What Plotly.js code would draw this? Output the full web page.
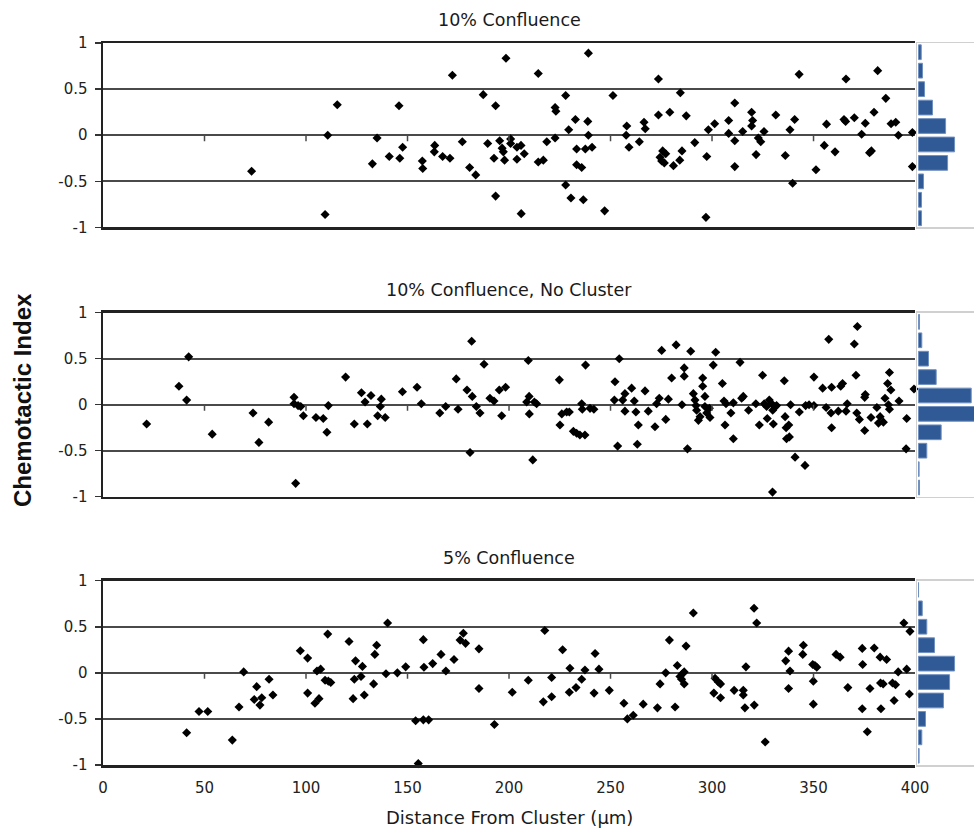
<!DOCTYPE html>
<html>
<head>
<meta charset="utf-8">
<script src="https://cdn.plot.ly/plotly-3.0.1.min.js"></script>
<style>html,body{margin:0;padding:0;background:#fff;}</style>
</head>
<body>
<div id="chart" style="width:974px;height:831px;"></div>
<script>
// ---- Data ----
const panelTitles = ["10% Confluence", "10% Confluence, No Cluster", "5% Confluence"];
const yTickVals = [1, 0.5, 0, -0.5, -1];
const yTickText = ["1", "0.5", "0", "-0.5", "-1"];
const xTickVals = [0, 50, 100, 150, 200, 250, 300, 350, 400];
const xTickText = ["0", "50", "100", "150", "200", "250", "300", "350", "400"];
const yTitle = "Chemotactic Index";
const xTitle = "Distance From Cluster (\u03bcm)";

// Panel 1: 10% Confluence
const p1X = [73.2,109.4,110.7,115.4,132.7,135,141,145.8,146.2,147.6,157.3,157.5,163.4,163.2,167.3,170.9,172.1,177,180.6,183.6,187.3,189.5,193.4,192.6,193.4,195.4,196.6,197.2,197.8,198.5,200.8,200.8,203.9,203.9,205.9,207.5,206,
214.4,214.4,216.9,218.6,222.7,223.1,222.7,227.9,227.9,229.4,230.5,232.7,233.3,233.3,235.8,236.6,237.6,238.8,239.1,239.1,240.9,247.1,251.2,258,257.7,259.1,264.2,266.5,267.1,273.6,273.6,274.4,275.7,275.2,276.5,277.2,279.2,281,284.1,284.4,285.2,287.3,291.5,297,297.4,298.2,301.3,308.2,308.2,311.2,311.2,311.2,315.1,319.5,320,319.5,322.8,324,321.7,325.6,331.4,336.1,338.4,339.7,340.7,342.9,351.2,355.3,356.4,360.6,365,365.8,366,370.1,373.7,375.5,377.6,378.5,379.8,381.6,385.6,388.2,390.5,391.8,398.7,398.7];
const p1Y = [-0.39,-0.86,0.0,0.33,-0.31,-0.03,-0.23,0.32,-0.25,-0.13,-0.28,-0.36,-0.11,-0.18,-0.23,-0.25,0.65,-0.07,-0.35,-0.43,0.44,-0.09,0.32,-0.25,-0.66,-0.06,-0.14,-0.18,-0.27,0.835,-0.04,-0.09,-0.13,-0.26,-0.11,-0.2,-0.85,
-0.29,0.67,-0.27,-0.07,0.30,0.26,-0.03,0.43,-0.54,0.06,-0.68,0.17,-0.15,-0.32,-0.35,-0.70,-0.15,0.15,0.0,0.89,-0.13,-0.82,0.43,0.10,0.0,-0.13,-0.07,0.14,0.07,0.61,0.22,-0.24,-0.17,-0.28,-0.30,-0.20,0.25,-0.33,-0.27,0.46,-0.17,0.21,-0.08,-0.89,-0.23,0.06,0.125,0.16,0.02,0.35,-0.06,-0.34,0.04,0.25,0.16,0.10,-0.03,-0.07,-0.21,0.04,0.22,-0.22,0.06,-0.52,0.17,0.66,-0.375,-0.11,0.12,-0.18,0.17,0.15,0.61,0.19,0.01,0.13,-0.19,-0.17,0.25,0.70,0.40,0.125,0.14,0.0,0.03,-0.34];

// Panel 2: 10% Confluence, No Cluster
const p2X = [21.5,37.4,42.2,41.2,53.8,73.9,76.8,81.6,94.1,94.1,96.1,97.4,94.9,98.7,104.9,108.5,110.3,111,119.5,123.8,127.3,129.1,130.2,132,135.3,137.1,136.6,139,147.5,154.7,156.8,165.9,168.8,174,174.9,179.3,181.6,181.9,180.8,183.9,185.7,187.7,190.6,192.6,195.2,198.3,196.4,209.5,
209.9,208.7,213.6,210,211.7,212.5,224.8,225.1,226,228.4,229.7,231.7,233.3,234.9,237.4,237.7,235.8,236.1,239.9,241.8,252.2,251.9,254.3,253.5,256,257.1,257.1,260.4,261.7,262.5,263.7,263.2,267,268.6,271.9,272.7,274,275.2,277.2,278.5,280.1,282.3,285.2,286.3,286.3,287.9,289.5,290.8,291.6,292.1,292.4,293.3,294.1,295.4,295.4,296.5,296.5,297.4,298.7,299,300.6,301.8,305.1,305.9,306.4,306.9,309.3,310.5,310.5,313.8,314.6,315.4,318,321.6,323.3,324.9,325.7,326.9,327.2,328.2,329.4,329.9,330.2,331,329.8,331.8,335.6,336,336.5,337.8,336.7,338.1,338.7,340.9,343,345.8,346.1,347.8,350.2,350.2,354.5,356.2,357.5,358.6,358.9,358.9,362.2,363.4,364.3,366,366.6,370.1,371.6,370.9,371.3,372.6,375.2,375.5,375.2,378.3,381.2,382,382.8,384.4,385.2,386.5,387.4,388.1,386.9,387.4,392.1,395.9,395.6,399.5];
const p2Y = [-0.21,0.20,0.52,0.05,-0.32,-0.09,-0.41,-0.19,0.08,0.01,-0.01,-0.02,-0.855,-0.12,-0.14,-0.15,-0.30,-0.01,0.30,-0.21,0.13,0.03,-0.21,0.10,-0.12,0.06,-0.02,-0.14,0.14,0.19,0.01,-0.09,-0.02,0.28,-0.05,0.16,0.69,0.09,-0.52,-0.02,-0.09,0.44,0.07,0.04,0.16,0.19,-0.12,0.48,
0.09,0.03,0.01,-0.10,-0.60,0.03,0.27,-0.22,-0.10,-0.08,-0.08,-0.29,-0.31,-0.33,-0.33,0.43,0.01,-0.05,-0.04,-0.05,0.25,0.05,0.50,-0.45,0.05,0.12,-0.07,0.18,0.04,-0.08,-0.22,-0.43,0.15,-0.07,-0.24,0.01,0.07,0.59,-0.16,0.06,0.29,0.65,0.0,0.40,0.31,-0.48,0.58,0.12,0.05,-0.01,-0.06,-0.17,-0.13,0.20,0.29,0.09,-0.02,-0.09,-0.04,-0.14,0.43,0.57,0.23,0.04,-0.22,0.01,-0.09,-0.37,0.02,0.46,0.07,0.09,-0.06,0.01,-0.22,0.32,0.01,-0.02,-0.15,0.05,0.01,-0.06,-0.21,-0.02,-0.95,-0.01,0.26,-0.13,-0.25,-0.22,-0.37,-0.35,0.0,-0.57,-0.08,-0.66,-0.01,0.0,0.30,-0.01,0.18,-0.03,0.71,-0.09,0.19,-0.25,-0.07,0.20,0.23,-0.07,0.01,0.66,0.85,0.32,-0.09,-0.16,0.08,0.11,-0.28,-0.14,-0.03,-0.20,-0.13,-0.19,0.07,0.23,0.35,0.16,0.0,-0.05,0.04,-0.15,-0.48,0.17];

// Panel 3: 5% Confluence
const p3X = [41.2,47.3,51.6,63.7,67,69.3,74.5,75.7,77.3,78.2,81.8,83.7,97.2,100.8,100.8,104.4,105.4,107.2,106.4,110.7,109.4,111,112.2,121.2,124.4,123.8,123.2,127.1,127.8,128.7,133.3,133.9,134.8,140.2,139.4,145,149.1,154,157.8,158.1,157.8,160.4,155.3,162.4,166.5,168.9,172.9,175.9,177.5,178.6,185.2,185.2,192.8,201.6,209.5,
216.9,217.6,221,221,226.4,229.7,230,233,235.8,237.4,241.9,242.4,244.3,249.4,256.6,258.3,261.2,266.1,273.1,274.4,277.2,279,281.8,282.9,284.2,285.4,286.3,285,286.3,287.2,290.8,301.5,303.1,304.2,300.9,304.2,310.9,315.4,315.4,316.2,316.7,320.7,322,320.8,326.2,336.3,337.7,338.4,337.7,344.7,345,349.6,350.7,351.6,349.9,349.9,361.1,363.1,366.9,374,374.2,374,376.5,377.8,379.9,382.8,386,383,384.3,383.2,388.9,390.4,389.7,391.7,394.5,397.5,395.9,397.2];
const p3Y = [-0.65,-0.42,-0.42,-0.73,-0.37,0.01,-0.29,-0.15,-0.35,-0.27,-0.07,-0.24,0.24,0.16,-0.22,-0.33,0.02,0.04,-0.28,0.42,-0.08,-0.09,-0.105,0.34,0.13,-0.07,-0.28,-0.04,0.07,-0.24,-0.12,0.20,0.30,0.54,-0.01,0.0,0.065,-0.52,0.36,0.06,-0.51,-0.51,-0.985,0.10,0.20,0.02,0.145,0.355,0.43,0.32,0.26,-0.17,-0.56,-0.21,-0.08,
-0.315,0.46,-0.05,-0.26,0.25,-0.21,0.05,-0.16,-0.07,0.03,-0.22,0.21,0.04,-0.19,-0.33,-0.50,-0.46,-0.34,-0.38,-0.12,0.0,0.355,-0.37,0.08,-0.04,-0.01,0.01,-0.07,-0.12,0.29,0.65,-0.06,-0.10,-0.12,-0.22,-0.27,-0.19,-0.19,-0.24,-0.38,0.065,0.70,0.54,-0.35,-0.75,0.13,0.235,0.02,-0.17,0.20,0.30,0.09,0.08,0.06,-0.09,-0.34,0.20,0.17,-0.16,0.265,0.09,-0.39,-0.64,-0.17,0.27,0.17,0.145,-0.11,-0.12,-0.39,-0.11,-0.13,-0.30,0.01,0.54,0.45,0.04,-0.23];

// Marginal histograms (bin centres, relative frequency)
const histBins = [0.9, 0.7, 0.5, 0.3, 0.1, -0.1, -0.3, -0.5, -0.7, -0.9];
const hist1 = [1.9, 2.8, 4.2, 9.8, 19.0, 25.3, 20.4, 3.5, 2.1, 2.1];
const hist2 = [0.7, 2.3, 7.0, 12.4, 37.0, 42.0, 15.9, 5.8, 0.4, 0.7];
const hist3 = [0.0, 2.6, 5.8, 11.2, 25.3, 21.8, 17.5, 4.9, 2.3, 0.4];

// ---- Build ----
const panelsX = [p1X, p2X, p3X];
const panelsY = [p1Y, p2Y, p3Y];
const hists = [hist1, hist2, hist3];
const yDomains = [[0.7445, 1.0], [0.3716, 0.6265], [0.0, 0.2553]];
const mainDom = [0, 0.9323];
const histDom = [0.9346, 1.0];
const titleY = [1.032, 0.658, 0.2867];
const txtFont = 'DejaVu Sans, Verdana, sans-serif';

const traces = [];
const layout = {
  width: 974, height: 831,
  margin: {l: 103, r: 0, t: 43, b: 66},
  paper_bgcolor: '#fff', plot_bgcolor: '#fff',
  showlegend: false,
  font: {family: txtFont, color: '#222', size: 15},
  shapes: [], annotations: []
};

for (let i = 0; i < 3; i++) {
  const sx = i + 1, hx = i + 4;
  const xs = 'x' + (sx === 1 ? '' : sx), ys = 'y' + (sx === 1 ? '' : sx);
  const xh = 'x' + hx, yh = 'y' + hx;
  traces.push({
    type: 'scatter', mode: 'markers', x: panelsX[i], y: panelsY[i],
    xaxis: xs, yaxis: ys, cliponaxis: false, hoverinfo: 'skip',
    marker: {symbol: 'diamond', size: 7, color: '#000'}
  });
  traces.push({
    type: 'bar', orientation: 'h', x: hists[i], y: histBins, width: 0.16,
    xaxis: xh, yaxis: yh, hoverinfo: 'skip',
    marker: {color: '#2f5a95', line: {color: '#7090c0', width: 1}}
  });
  const xKey = 'xaxis' + (sx === 1 ? '' : sx), yKey = 'yaxis' + (sx === 1 ? '' : sx);
  layout[xKey] = {
    domain: mainDom, anchor: ys, range: [0, 400],
    showgrid: false, zeroline: false, showline: true, mirror: true,
    linecolor: '#222', linewidth: 2.5, ticks: '',
    showticklabels: i === 2,
    tickvals: xTickVals, ticktext: xTickText,
    tickfont: {family: txtFont, size: 15, color: '#222'}, ticklabelstandoff: 7
  };
  layout[yKey] = {
    domain: yDomains[i], anchor: xs, range: [-1, 1],
    tickvals: yTickVals, ticktext: yTickText,
    showgrid: true, gridcolor: '#4a4a4a', gridwidth: 1.8,
    zeroline: false, showline: true, linecolor: '#222', linewidth: 2.5,
    ticks: 'outside', ticklen: 6, tickcolor: '#333', tickwidth: 1.5,
    tickfont: {family: txtFont, size: 15, color: '#222'}, ticklabelstandoff: 4
  };
  layout['xaxis' + hx] = {
    domain: histDom, anchor: yh, range: [-1.05, 38.95],
    showgrid: false, zeroline: false, showticklabels: false,
    showline: true, mirror: true, linecolor: '#d0d0d0', linewidth: 1.5, ticks: ''
  };
  layout['yaxis' + hx] = {
    domain: yDomains[i], anchor: xh, range: [-1, 1],
    showgrid: false, zeroline: false, showticklabels: false,
    showline: true, linecolor: '#d0d0d0', linewidth: 1.5, ticks: ''
  };
  // small tick marks on the zero line
  xTickVals.forEach(t => {
    if (t > 0 && t < 400) {
      layout.shapes.push({type: 'line', xref: xs, yref: ys, x0: t, x1: t, y0: 0, y1: -0.065,
        line: {color: '#4a4a4a', width: 1.5}});
    }
  });
  layout.annotations.push({
    text: panelTitles[i], xref: 'paper', yref: 'paper',
    x: (mainDom[0] + mainDom[1]) / 2, y: titleY[i], xanchor: 'center', yanchor: 'middle',
    showarrow: false, font: {family: txtFont, size: 17.5, color: '#1a1a1a'}
  });
}
layout.annotations.push({
  text: '<b>' + yTitle + '</b>', xref: 'paper', yref: 'paper', x: -0.093, y: 0.5055,
  xanchor: 'center', yanchor: 'middle', textangle: -90, showarrow: false,
  font: {family: 'Liberation Sans, Arial, sans-serif', size: 24, color: '#111'}
});
layout.annotations.push({
  text: xTitle, xref: 'paper', yref: 'paper', x: (mainDom[0] + mainDom[1]) / 2, y: -0.0734,
  xanchor: 'center', yanchor: 'middle', showarrow: false,
  font: {family: txtFont, size: 18, color: '#1a1a1a'}
});

Plotly.newPlot('chart', traces, layout, {displayModeBar: false, staticPlot: true});
</script>
</body>
</html>
